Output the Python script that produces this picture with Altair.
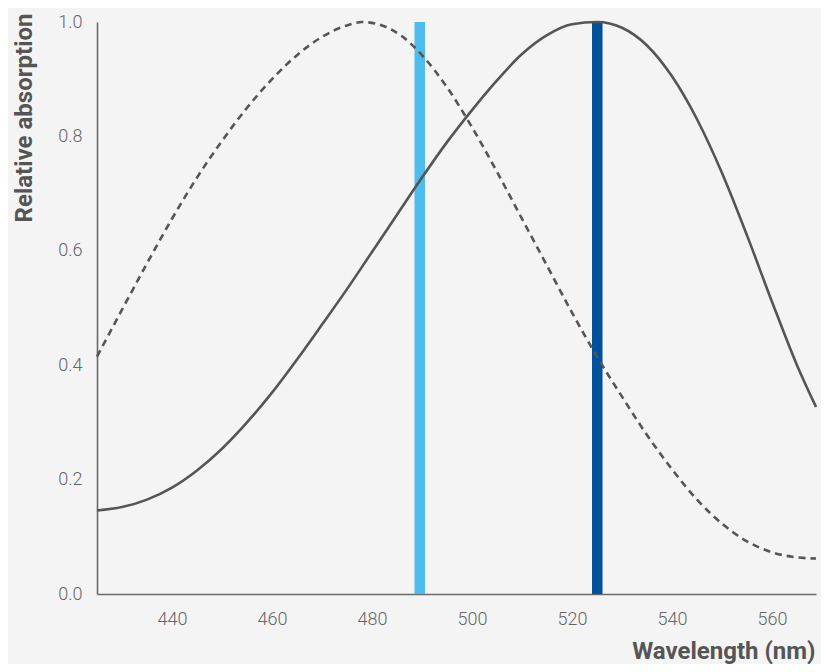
import altair as alt
import pandas as pd

# Dashed curve (peak ~478 nm)
dashed_nm = [425, 430, 435, 440, 445, 450, 455, 460, 465, 470, 475, 478, 482, 486, 490, 495,
             500, 505, 510, 515, 520, 525, 530, 535, 540, 545, 550, 555, 560, 565, 568.8]
dashed_val = [0.415, 0.497, 0.578, 0.656, 0.728, 0.792, 0.850, 0.900, 0.942, 0.974, 0.994, 1.0,
              0.994, 0.975, 0.942, 0.886, 0.816, 0.738, 0.656, 0.574, 0.492, 0.415, 0.345,
              0.278, 0.218, 0.165, 0.123, 0.092, 0.073, 0.064, 0.062]

# Solid curve (peak ~525 nm)
solid_nm = [425, 430, 435, 440, 445, 450, 455, 460, 465, 470, 475, 480, 485, 490, 495, 500,
            505, 510, 515, 520, 525, 530, 535, 540, 545, 550, 555, 560, 565, 568.8]
solid_val = [0.146, 0.152, 0.165, 0.186, 0.216, 0.254, 0.300, 0.352, 0.410, 0.471, 0.533, 0.598,
             0.663, 0.728, 0.790, 0.846, 0.898, 0.944, 0.977, 0.996, 1.0, 0.990, 0.959, 0.905,
             0.830, 0.736, 0.627, 0.511, 0.400, 0.327]

# Excitation bands
band_start = [488.5, 524.0]
band_end = [490.6, 526.1]
band_color = ["#4FBDEC", "#00519B"]

x_ticks = [440, 460, 480, 500, 520, 540, 560]
y_ticks = [0.0, 0.2, 0.4, 0.6, 0.8, 1.0]

dashed_df = pd.DataFrame({"nm": dashed_nm, "val": dashed_val})
solid_df = pd.DataFrame({"nm": solid_nm, "val": solid_val})
band_df = pd.DataFrame({"nm": band_start, "end": band_end, "color": band_color,
                        "val": [0.0] * len(band_start), "hi": [1.0] * len(band_start)})

x_scale = alt.Scale(domain=[425, 568.8], nice=False, zero=False)
y_scale = alt.Scale(domain=[0, 1], nice=False, zero=True)

x_axis = alt.Axis(values=x_ticks, title="Wavelength (nm)", grid=False, ticks=False, tickSize=0,
                  labelPadding=16, labelFontSize=18, labelFont="Roboto", labelFontWeight=300,
                  labelColor="#666666", domainColor="#6a6a6a", domainWidth=1.6,
                  titleFont="Roboto", titleFontSize=24, titleFontWeight="bold", titleColor="#555555",
                  titleX=718, titleY=64, titleAlign="right", titleBaseline="alphabetic")
y_axis = alt.Axis(values=y_ticks, format=".1f", title="Relative absorption", grid=False,
                  ticks=False, tickSize=0, labelPadding=15, labelFontSize=18, labelFont="Roboto",
                  labelFontWeight=300, labelColor="#666666", domainColor="#6a6a6a", domainWidth=1.6,
                  titleFont="Roboto", titleFontSize=24, titleFontWeight="bold", titleColor="#555555",
                  titleAngle=270, titleX=-66, titleY=-9, titleAlign="right",
                  titleBaseline="alphabetic")

X = alt.X("nm:Q", scale=x_scale, axis=x_axis)
Y = alt.Y("val:Q", scale=y_scale, axis=y_axis)

bands = alt.Chart(band_df).mark_rect().encode(
    x=X, x2="end:Q", y=Y, y2="hi:Q",
    color=alt.Color("color:N", scale=None),
)

solid = alt.Chart(solid_df).mark_line(
    color="#555555", strokeWidth=2.6, interpolate="monotone"
).encode(x=X, y=Y)

dashed = alt.Chart(dashed_df).mark_line(
    color="#555555", strokeWidth=2.6, strokeDash=[7, 5], interpolate="monotone"
).encode(x=X, y=Y)

chart = alt.layer(bands, solid, dashed).properties(
    width=719, height=572,
    autosize=alt.AutoSizeParams(type="none"),
    padding={"left": 89, "top": 14, "right": 5, "bottom": 70},
).configure(background="#f4f4f4").configure_view(stroke=None)

chart.save("out.html", embed_options={"renderer": "svg", "actions": False})
